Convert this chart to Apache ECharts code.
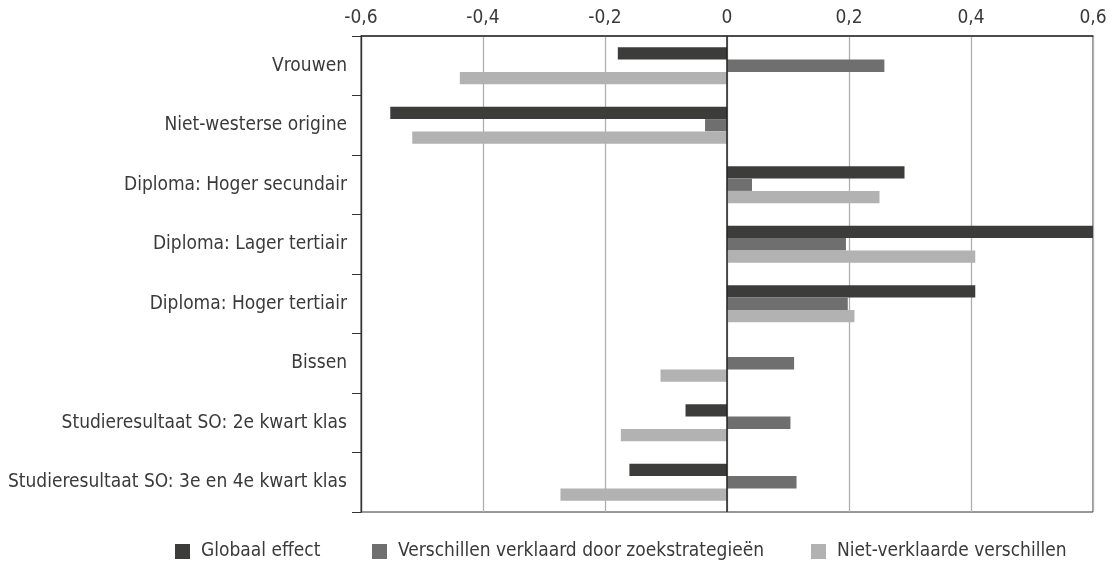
<!DOCTYPE html>
<html><head><meta charset="utf-8">
<script src="https://cdn.jsdelivr.net/npm/echarts@6/dist/echarts.min.js"></script>
<style>html,body{margin:0;padding:0;background:#fff}#c{width:1118px;height:573px}</style>
</head><body><div id="c"></div>
<script>
const categories = ['Vrouwen','Niet-westerse origine','Diploma: Hoger secundair','Diploma: Lager tertiair','Diploma: Hoger tertiair','Bissen','Studieresultaat SO: 2e kwart klas','Studieresultaat SO: 3e en 4e kwart klas'];
const seriesNames = ['Globaal effect','Verschillen verklaard door zoekstrategieën','Niet-verklaarde verschillen'];
const globaal = [-0.179, -0.552, 0.291, 0.6, 0.407, 0, -0.068, -0.16];
const verklaard = [0.258, -0.036, 0.041, 0.195, 0.198, 0.11, 0.104, 0.114];
const nietVerklaard = [-0.438, -0.516, 0.25, 0.407, 0.209, -0.109, -0.174, -0.273];
const colors = ['#3c3c3b', '#6f6f6f', '#b2b2b2'];
const font = '"DejaVu Sans Condensed", "DejaVu Sans", sans-serif';
const txt = '#3a3a3a';

const chart = echarts.init(document.getElementById('c'));
const dataSets = [globaal, verklaard, nietVerklaard];
const series = dataSets.map((d, i) => ({
  name: seriesNames[i], type: 'bar', data: d, barWidth: 12.3, barGap: '0%',
  itemStyle: { color: colors[i] }, animation: false,
  markLine: i === 0 ? { silent: true, symbol: 'none', label: { show: false },
    lineStyle: { color: '#222', type: 'solid', width: 1.5 }, data: [{ xAxis: 0 }] } : undefined
}));
const legendLefts = [175, 372, 811];
chart.setOption({
  animation: false,
  grid: { left: 361, top: 36, width: 732, height: 476, show: true, borderColor: '#333', borderWidth: 1 },
  xAxis: { type: 'value', position: 'top', min: -0.6, max: 0.6, interval: 0.2,
    axisLine: { show: true, lineStyle: { color: '#333', width: 1.5 } }, axisTick: { show: false },
    splitLine: { lineStyle: { color: '#b0b0b0', width: 1.3 } },
    axisLabel: { color: txt, fontFamily: font, fontSize: 19, margin: 8,
      formatter: v => { const r = Math.round(v * 10) / 10; return r === 0 ? '0' : r.toFixed(1).replace('.', ','); } } },
  yAxis: { type: 'category', inverse: true, data: categories,
    axisLine: { show: true, onZero: false, lineStyle: { color: '#333', width: 1.3 } },
    axisTick: { show: true, length: 9, lineStyle: { color: '#333' } },
    axisLabel: { color: txt, fontFamily: font, fontSize: 19, margin: 14 } },
  legend: seriesNames.map((n, i) => ({ data: [n], left: legendLefts[i], top: 542, padding: 0,
    itemWidth: 15, itemHeight: 15, itemGap: 10, icon: 'rect',
    textStyle: { color: txt, fontFamily: font, fontSize: 19, padding: [0, 0, 0, 6] } })),
  series: series
});
</script></body></html>
